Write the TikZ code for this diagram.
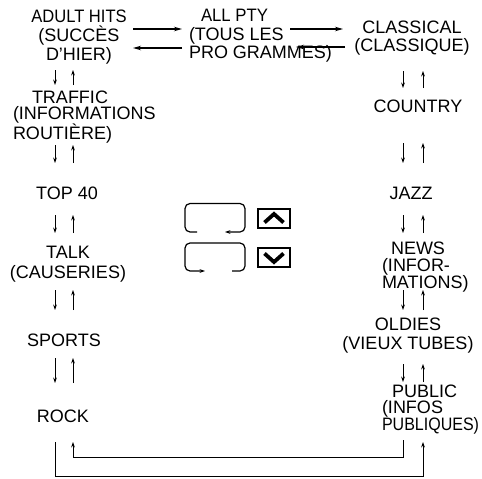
\documentclass[tikz,border=0pt]{standalone}
\usepackage{fontspec}
\setmainfont{Liberation Sans}
\usetikzlibrary{arrows.meta}
\begin{document}
\begin{tikzpicture}[x=1pt,y=-1pt,
  lbl/.style={inner sep=0pt, outer sep=0pt, font=\fontsize{18}{#1}\selectfont},
  lbl/.default=18,
  varr/.style={line width=0.9pt, -{Stealth[length=5.5pt,width=3.8pt]}},
  harr/.style={line width=1.4pt, -{Stealth[length=8pt,width=4.5pt]}},
  loopl/.style={line width=1.2pt, rounded corners=5pt},
  btn/.style={draw, line width=2.4pt, inner sep=0pt, minimum width=31.5pt, minimum height=18.5pt},
  chev/.style={line width=3.8pt, line join=miter}]
\useasboundingbox (0,0) rectangle (482,479);

% left column
\node[lbl=19, align=center, anchor=north] (adult) at (79,9.5) {\scalebox{0.92}[1]{ADULT HITS}\\(SUCCÈS\\D'HIER)};
\node[lbl=16.5, align=left, anchor=north west] (traffic) at (13,90.5) {\hspace*{19pt}TRAFFIC\\(INFORMATIONS\\ROUTIÈRE)};
\node[lbl] (top) at (67,193) {TOP 40};
\node[lbl=19.5, align=center, anchor=north] (talk) at (68,246.5) {TALK\\(CAUSERIES)};
\node[lbl] (sports) at (64,340) {SPORTS};
\node[lbl] (rock) at (63,416) {ROCK};

% middle
\node[lbl=18.5, align=left, anchor=north west] (allpty) at (189,9.5) {\hspace*{12pt}\scalebox{0.93}[1]{ALL PTY}\\(TOUS LES\\PRO GRAMMES)};

% right column
\node[lbl=18, align=center, anchor=north] (classical) at (412,20.5) {CLASSICAL\\(CLASSIQUE)};
\node[lbl] (country) at (418,106) {COUNTRY};
\node[lbl] (jazz) at (411,193) {JAZZ};
\node[lbl=17, align=left, anchor=north west] (news) at (382,241.5) {\hspace*{9pt}NEWS\\(INFOR-\\MATIONS)};
\node[lbl=19.5, align=center, anchor=north] (oldies) at (408,317.5) {OLDIES\\(VIEUX TUBES)};
\node[lbl=16, align=left, anchor=north west] (public) at (382,384.5) {\hspace*{10pt}PUBLIC\\(INFOS\\\scalebox{0.89}[1]{PUBLIQUES)}};

% top horizontal arrows
\coordinate (h1a) at (133,29); \coordinate (h1b) at (182,29);
\coordinate (h2a) at (182,48); \coordinate (h2b) at (133,48);
\coordinate (h3a) at (290,29); \coordinate (h3b) at (343,29);
\coordinate (h4a) at (345,47); \coordinate (h4b) at (296,47);
\draw[harr] (h1a) -- (h1b);
\draw[harr] (h2a) -- (h2b);
\draw[harr] (h3a) -- (h3b);
\draw[harr] (h4a) -- (h4b);

% vertical arrow pairs
\foreach \n/\xd/\xu/\ya/\yb in {L1/55/73/70/85, L2/55/73/145/163, L3/55/73/215/233, L4/55/73/290/310, L5/55/73/358/383,
  R1/403/423/71/88, R2/403/423/143/163, R3/403/423/215/233, R4/403/423/290/310, R5/403/423/364/382}{
  \coordinate (\n da) at (\xd,\ya); \coordinate (\n db) at (\xd,\yb);
  \coordinate (\n ua) at (\xu,\yb); \coordinate (\n ub) at (\xu,\ya);
  \draw[varr] (\n da) -- (\n db);
  \draw[varr] (\n ua) -- (\n ub);
}

% bottom wrap-around
\coordinate (pubdn) at (403,440); \coordinate (rockup) at (73,442);
\coordinate (rockdn) at (55,442); \coordinate (pubup) at (423,442);
\draw[varr] (pubdn) -- (403,457) -| (rockup);
\draw[varr] (rockdn) -- (55,476) -| (pubup);

% middle loop symbols
\draw[loopl, -{Stealth[length=5.5pt,width=3.8pt]}] (197,232) -- (185,232) -- (185,203.5) -- (245,203.5) -- (245,232) -- (225,232);
\draw[loopl, -{Stealth[length=5.5pt,width=3.8pt]}] (232,271) -- (245,271) -- (245,243) -- (185,243) -- (185,271) -- (205,271);

% buttons
\node[btn] (upbtn) at (274,218.5) {};
\node[btn] (dnbtn) at (274,257.5) {};
\draw[chev] ([shift={(-9.5,4)}]upbtn.center) -- ([shift={(0,-4.5)}]upbtn.center) -- ([shift={(9.5,4)}]upbtn.center);
\draw[chev] ([shift={(-9.5,-4)}]dnbtn.center) -- ([shift={(0,4.5)}]dnbtn.center) -- ([shift={(9.5,-4)}]dnbtn.center);
\end{tikzpicture}
\end{document}
